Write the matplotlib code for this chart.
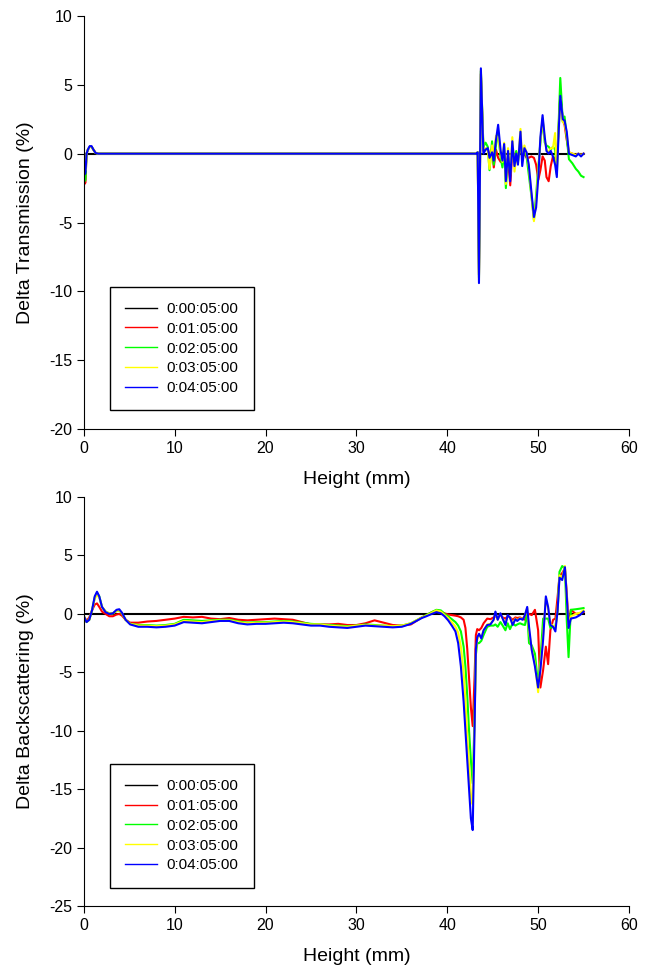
import matplotlib
matplotlib.use('Agg')
import matplotlib.pyplot as plt

plt.rcParams['font.family'] = ['Liberation Sans', 'DejaVu Sans']
plt.rcParams['axes.unicode_minus'] = False

labels = ['0:00:05:00', '0:01:05:00', '0:02:05:00', '0:03:05:00', '0:04:05:00']
colors = ['#000000', '#ff0000', '#00ff00', '#ffff00', '#0000ff']

# reference series (flat at zero)
ref_x = [0, 55]
ref_y = [0, 0]

# ---- Delta Transmission ----
trans_x = [0, 0.08, 0.18, 0.3, 0.45, 0.65, 0.85, 1.05, 1.3, 1.6, 43.2, 43.35,
           43.49, 43.7, 43.98, 44.22, 44.46, 44.65, 44.93, 45.12, 45.36, 45.6,
           45.88, 46.07, 46.26, 46.45, 46.69, 46.93, 47.16, 47.4, 47.59, 47.78,
           48.06, 48.25, 48.49, 48.73, 48.97, 49.25, 49.54, 49.78, 50.02, 50.25,
           50.49, 50.73, 50.92, 51.16, 51.39, 51.63, 51.87, 52.06, 52.25, 52.44,
           52.72, 52.91, 53.15, 53.39, 53.77, 54.15, 54.43, 54.72, 55.0]
trans_red = [-0.5, -2.2, -2.1, 0.0, 0.3, 0.5, 0.5, 0.3, 0.05, 0, 0, 0.1,
             -8.8, 5.8, 0.2, 0.3, 0.4, -0.2, 0.4, -1.0, 0.3, -0.3,
             -0.6, 0.0, -0.2, -0.6, -0.3, -2.3, 0.2, -0.2, 0.1, -0.3,
             0.6, -0.2, 0.0, -0.3, -0.3, -0.2, -0.3, -0.8, -1.9, -1.2,
             -0.2, -0.5, -1.7, -2.0, -0.9, -0.2, -0.4, -0.6, 1.8, 4.4,
             2.4, 2.1, 1.0, 0.1, 0.0, -0.1, 0.0, -0.1, 0.0]
trans_green = [-0.4, -2.0, -1.9, 0.0, 0.3, 0.5, 0.5, 0.3, 0.05, 0, 0, 0.1,
               -9.0, 6.0, 0.5, 0.8, 0.5, -1.2, 0.9, -0.8, 0.6, 1.5,
               -0.3, -1.0, 0.5, -2.5, -0.2, -1.2, 0.3, -0.4, 0.2, -0.6,
               1.0, -0.3, 0.3, -0.2, -1.5, -3.0, -4.8, -3.0, -1.0, 0.8,
               2.5, 0.8, 0.6, 0.5, 0.3, 0.5, 0.3, -1.5, 2.0, 5.5,
               2.3, 2.7, 1.2, -0.4, -0.7, -1.1, -1.3, -1.6, -1.7]
trans_yellow = [-0.3, -1.0, -1.2, 0.0, 0.3, 0.5, 0.5, 0.3, 0.05, 0, 0, 0.1,
                -9.2, 6.1, 0.3, 0.4, 0.2, -1.1, 0.6, -0.3, 1.3, 1.2,
                0.0, -0.6, 0.8, -2.2, 0.4, -1.5, 1.2, -1.3, -0.2, -0.7,
                1.8, -0.5, 0.6, 0.0, -0.9, -2.9, -4.9, -3.5, -1.2, 0.9,
                2.6, 1.0, 0.3, 0.1, 0.4, 0.4, 1.5, -1.2, 1.6, 4.0,
                2.3, 2.2, 1.4, 0.1, 0.0, -0.1, 0.0, -0.1, 0.0]
trans_blue = [-0.3, -1.5, -1.4, 0.0, 0.3, 0.55, 0.55, 0.3, 0.05, 0, 0, 0.1,
              -9.4, 6.2, 0.0, 0.3, 0.4, -0.3, 0.1, -0.5, 1.0, 2.1,
              0.2, -0.5, 0.7, -2.0, 0.2, -2.0, 0.9, -0.9, 0.0, -0.8,
              1.6, -0.9, 0.4, 0.1, -0.8, -2.7, -4.6, -3.9, -1.7, 1.2,
              2.8, 1.2, 0.2, 0.0, 0.2, -0.2, -0.8, -1.7, 1.4, 4.2,
              2.5, 2.4, 1.6, 0.0, -0.1, -0.2, 0.0, -0.2, 0.0]

# ---- Delta Backscattering ----
back_x = [0, 0.3, 0.6, 0.9, 1.2, 1.45, 1.7, 2.0, 2.4, 2.8, 3.2, 3.6, 3.9, 4.2, 4.6, 5.1,
          6, 7, 8, 9, 10, 11, 12, 13, 14, 15, 16, 17, 18, 19, 20, 21, 22, 23, 24, 25,
          26, 27, 28, 29, 30, 31, 32, 33, 34, 35, 36,
          36.6, 37.2, 37.7, 38.3, 38.8, 39.3, 39.7, 40.1, 40.5, 40.9, 41.2, 41.5,
          41.8, 42.0, 42.2, 42.4, 42.6, 42.8, 43.0, 43.15, 43.3,
          43.5, 43.75, 44.0, 44.4, 44.75, 45.1, 45.3, 45.55, 45.85, 46.1, 46.4,
          46.65, 46.9, 47.2, 47.5, 47.7, 48.0, 48.3, 48.55, 48.8, 49.0, 49.3,
          49.65, 50.0, 50.25, 50.55, 50.85, 51.1, 51.35, 51.65, 51.9, 52.15,
          52.35, 52.65, 52.95, 53.15, 53.35, 53.6, 54.15, 54.6, 55.0]
back_red = [-0.2, -0.6, -0.3, 0.3, 0.8, 0.9, 0.6, 0.2, 0.0, -0.2, -0.2, -0.05, 0.0, -0.15, -0.5, -0.75,
            -0.75, -0.65, -0.6, -0.5, -0.4, -0.25, -0.3, -0.25, -0.4, -0.45,
            -0.35, -0.5, -0.55, -0.5, -0.45, -0.4, -0.45, -0.5, -0.7, -0.9,
            -0.9, -0.9, -0.85, -0.95, -0.95, -0.8, -0.55, -0.75, -0.95, -1.0, -0.9,
            -0.6, -0.3, -0.1, 0.15, 0.3, 0.2, 0.05, -0.05, -0.1, -0.15, -0.2, -0.3,
            -0.5, -1.2, -3.0, -5.5, -8.0, -9.6, -5.5, -1.8, -1.3,
            -1.4, -1.2, -0.8, -0.4, -0.45, -0.3, -0.2, -0.3, -0.1, -0.3, -0.4,
            -0.2, -0.3, -0.5, -0.3, -0.35, -0.3, -0.4, -0.5, 0.0, 0.0, -0.1,
            0.35, -1.4, -6.3, -4.8, -2.8, -4.3, -1.4, -0.5, -0.4, 1.5,
            3.2, 3.5, 3.9, 1.8, -0.8, 0.35, 0.0, 0.05, 0.15]
back_green = [-0.2, -0.7, -0.5, 0.3, 1.4, 1.8, 1.5, 0.6, 0.2, 0.05, 0.05, 0.25, 0.3, 0.05, -0.5, -0.85,
              -0.95, -0.95, -1.0, -0.95, -0.85, -0.5, -0.55, -0.6, -0.55, -0.5,
              -0.5, -0.65, -0.75, -0.7, -0.7, -0.65, -0.6, -0.65, -0.75, -0.85,
              -0.9, -0.95, -1.0, -1.05, -1.0, -0.9, -0.95, -1.0, -1.05, -1.0, -0.8,
              -0.55, -0.3, -0.1, 0.15, 0.35, 0.3, 0.0, -0.2, -0.45, -0.7, -1.0, -1.5,
              -2.8, -4.5, -7.0, -10.0, -12.5, -14.5, -9.0, -3.5, -2.5,
              -2.5, -2.3, -1.8, -1.1, -1.0, -1.0, -0.9, -1.1, -0.7, -1.0, -1.4,
              -0.8, -1.3, -0.8, -1.0, -0.9, -0.8, -0.9, -0.95, 0.1, -2.5, -2.7,
              -3.4, -6.1, -4.0, -0.4, -0.4, -0.4, -1.2, -1.1, -1.1, 0.3,
              3.6, 4.1, 3.9, -0.5, -3.7, 0.35, 0.4, 0.45, 0.5]
back_yellow = [-0.2, -0.7, -0.5, 0.3, 1.3, 1.65, 1.4, 0.6, 0.2, 0.05, 0.05, 0.25, 0.3, 0.05, -0.5, -0.85,
               -1.0, -1.0, -1.05, -1.0, -0.9, -0.6, -0.65, -0.7, -0.6, -0.55,
               -0.55, -0.7, -0.8, -0.75, -0.75, -0.7, -0.65, -0.7, -0.8, -0.9,
               -0.9, -1.0, -1.05, -1.1, -1.0, -0.95, -1.0, -1.0, -1.05, -1.0, -0.8,
               -0.55, -0.3, -0.15, 0.1, 0.3, 0.2, -0.1, -0.35, -0.7, -1.1, -1.6, -2.8,
               -5.0, -7.5, -10.5, -13.0, -15.5, -16.3, -9.5, -3.2, -2.2,
               -1.8, -2.0, -1.4, -0.9, -0.85, -0.5, 0.1, -0.5, 0.0, -0.4, -0.9,
               -0.15, -0.3, -0.9, -0.4, -0.55, -0.35, -0.45, -0.1, 0.5, -1.5, -3.0,
               -4.3, -6.7, -4.5, -1.8, 1.3, 0.5, -0.9, -1.0, -1.3, 0.4,
               3.3, 3.1, 4.1, 1.2, -1.0, -0.2, 0.0, 0.1, 0.3]
back_blue = [-0.2, -0.7, -0.5, 0.3, 1.5, 1.9, 1.5, 0.6, 0.15, 0.0, 0.05, 0.35, 0.4, 0.1, -0.5, -0.9,
             -1.1, -1.1, -1.15, -1.1, -1.0, -0.7, -0.75, -0.8, -0.7, -0.6,
             -0.6, -0.8, -0.9, -0.85, -0.85, -0.8, -0.75, -0.8, -0.9, -1.0,
             -1.0, -1.1, -1.15, -1.2, -1.1, -1.0, -1.05, -1.1, -1.15, -1.1, -0.85,
             -0.6, -0.35, -0.2, 0.0, 0.15, 0.05, -0.2, -0.55, -1.0, -1.5, -2.5, -4.5,
             -7.5, -10.0, -12.5, -15.0, -17.5, -18.5, -10.0, -3.0, -2.0,
             -1.7, -2.1, -1.4, -0.95, -0.9, -0.5, 0.2, -0.5, 0.05, -0.4, -0.95,
             -0.1, -0.3, -0.95, -0.45, -0.6, -0.4, -0.5, -0.1, 0.6, -1.1, -3.1,
             -4.5, -6.3, -4.8, -2.2, 1.5, 0.6, -0.95, -1.1, -1.5, 0.35,
             3.1, 2.9, 4.0, 1.5, -1.2, -0.4, -0.3, -0.1, 0.2]


def draw_panel(ax, x, series, ylabel, ylim, yticks):
    ax.plot(ref_x, ref_y, color=colors[0], lw=1.5, label=labels[0])
    for ys, c, lab in zip(series, colors[1:], labels[1:]):
        ax.plot(x, ys, color=c, lw=1.5, label=lab)
    ax.set_xlim(0, 60)
    ax.set_ylim(*ylim)
    ax.set_xticks(range(0, 61, 10))
    ax.set_yticks(yticks)
    ax.spines['top'].set_visible(False)
    ax.spines['right'].set_visible(False)
    ax.tick_params(direction='out', length=5, labelsize=11.5)
    ax.set_xlabel('Height (mm)', fontsize=14, labelpad=11)
    ax.set_ylabel(ylabel, fontsize=14, labelpad=11)
    leg = ax.legend(loc='lower left', bbox_to_anchor=(0.048, 0.045), borderaxespad=0,
                    fancybox=False, framealpha=1, edgecolor='black', fontsize=11,
                    handlelength=2.1, handletextpad=0.6, labelspacing=0.38,
                    borderpad=1.0)
    leg.get_frame().set_linewidth(1.0)
    for line in leg.get_lines():
        line.set_linewidth(1.0)


fig = plt.figure(figsize=(6.6, 9.76), dpi=100)
ax1 = fig.add_axes([0.127, 0.5604, 0.826, 0.4232])
ax2 = fig.add_axes([0.127, 0.0717, 0.826, 0.419])

draw_panel(ax1, trans_x, [trans_red, trans_green, trans_yellow, trans_blue],
           'Delta Transmission (%)', (-20, 10), range(-20, 11, 5))
draw_panel(ax2, back_x, [back_red, back_green, back_yellow, back_blue],
           'Delta Backscattering (%)', (-25, 10), range(-25, 11, 5))

fig.savefig('out.png', dpi=100)
